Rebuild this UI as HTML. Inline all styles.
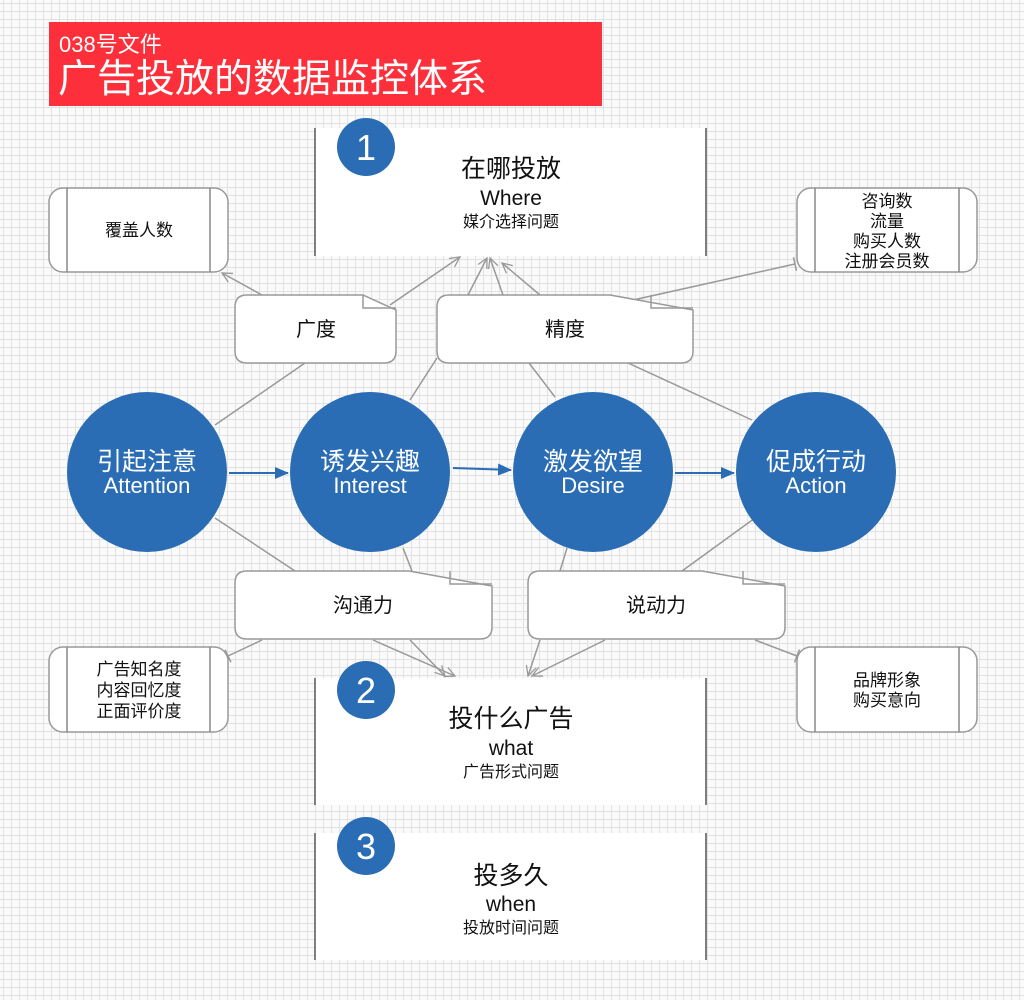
<!DOCTYPE html>
<html><head><meta charset="utf-8"><style>
html,body{margin:0;padding:0;}
body{width:1024px;height:1000px;overflow:hidden;background-color:#fafafa;
background-image:linear-gradient(#e2e2e2 1px,transparent 1px),linear-gradient(90deg,#e2e2e2 1px,transparent 1px);
background-size:8px 8px;background-position:3px 3px;}
svg{position:absolute;left:0;top:0;font-family:"Liberation Sans","Noto Sans CJK SC",sans-serif;}
</style></head><body>
<svg width="1024" height="1000" viewBox="0 0 1024 1000">
<defs>
<marker id="op" markerWidth="12" markerHeight="12" refX="10" refY="6" orient="auto" markerUnits="userSpaceOnUse"><path d="M0,1 L10,6 L0,11" fill="none" stroke="#999" stroke-width="1.3"/></marker>
<marker id="bar" markerWidth="4" markerHeight="14" refX="2" refY="7" orient="auto" markerUnits="userSpaceOnUse"><path d="M2,0 L2,14" stroke="#999" stroke-width="1.5"/></marker>
<marker id="blue" markerWidth="14" markerHeight="12" refX="13" refY="6" orient="auto" markerUnits="userSpaceOnUse"><path d="M0,0 L14,6 L0,12 Z" fill="#2a6db5"/></marker>
</defs>
<!-- banner -->
<rect x="49" y="22" width="553" height="84" fill="#fd2f3b"/>
<text x="59" y="52" font-size="22" fill="#fff">038号文件</text>
<text x="58" y="92" font-size="39" fill="#fff">广告投放的数据监控体系</text>

<!-- connectors -->
<g stroke="#999" stroke-width="1.5" fill="none">
<line x1="262" y1="295" x2="222" y2="273" marker-end="url(#op)"/>
<line x1="390" y1="305" x2="460" y2="257" marker-end="url(#op)"/>
<line x1="215" y1="425" x2="305" y2="363"/>
<line x1="468" y1="295" x2="487" y2="258" marker-end="url(#op)"/>
<line x1="503" y1="295" x2="490" y2="258" marker-end="url(#op)"/>
<line x1="540" y1="295" x2="502" y2="263" marker-end="url(#op)"/>
<line x1="410" y1="400" x2="437" y2="358"/>
<line x1="555" y1="397" x2="529" y2="363"/>
<line x1="752" y1="420" x2="628" y2="363"/>
<line x1="633" y1="300" x2="795" y2="264" marker-end="url(#bar)"/>
<line x1="215" y1="518" x2="295" y2="571"/>
<line x1="403" y1="548" x2="412" y2="571"/>
<line x1="262" y1="640" x2="228" y2="656" marker-end="url(#bar)"/>
<line x1="373" y1="640" x2="455" y2="676" marker-end="url(#op)"/>
<line x1="410" y1="640" x2="445" y2="676" marker-end="url(#op)"/>
<line x1="567" y1="548" x2="560" y2="571"/>
<line x1="755" y1="518" x2="682" y2="571"/>
<line x1="540" y1="640" x2="528" y2="676" marker-end="url(#op)"/>
<line x1="605" y1="640" x2="532" y2="676" marker-end="url(#op)"/>
<line x1="755" y1="640" x2="797" y2="656" marker-end="url(#bar)"/>
</g>

<!-- main boxes -->
<g>
<rect x="315" y="128" width="391" height="128" fill="#fff"/>
<rect x="315" y="678" width="391" height="127" fill="#fff"/>
<rect x="315" y="833" width="391" height="127" fill="#fff"/>
<g stroke="#555" stroke-width="1.5">
<line x1="315" y1="128" x2="315" y2="256"/><line x1="706" y1="128" x2="706" y2="256"/>
<line x1="315" y1="678" x2="315" y2="805"/><line x1="706" y1="678" x2="706" y2="805"/>
<line x1="315" y1="833" x2="315" y2="960"/><line x1="706" y1="833" x2="706" y2="960"/>
</g>
<g fill="#2a6db5"><circle cx="366" cy="147" r="29"/><circle cx="366" cy="690" r="29"/><circle cx="366" cy="846" r="29"/></g>
<g fill="#fff" font-size="36" text-anchor="middle"><text x="366" y="160">1</text><text x="366" y="703">2</text><text x="366" y="859">3</text></g>
<g text-anchor="middle" fill="#111">
<text x="511" y="177" font-size="25">在哪投放</text>
<text x="511" y="205" font-size="21">Where</text>
<text x="511" y="227" font-size="16">媒介选择问题</text>
<text x="511" y="727" font-size="25">投什么广告</text>
<text x="511" y="755" font-size="21">what</text>
<text x="511" y="777" font-size="16">广告形式问题</text>
<text x="511" y="884" font-size="25">投多久</text>
<text x="511" y="911" font-size="21">when</text>
<text x="511" y="933" font-size="16">投放时间问题</text>
</g>
</g>

<!-- side boxes -->
<g fill="#fff" stroke="#999" stroke-width="1.5">
<rect x="49" y="188" width="179" height="84" rx="14"/>
<rect x="797" y="188" width="180" height="84" rx="14"/>
<rect x="49" y="647" width="179" height="85" rx="14"/>
<rect x="797" y="647" width="180" height="85" rx="14"/>
</g>
<g stroke="#888" stroke-width="1.5">
<line x1="67" y1="188" x2="67" y2="272"/><line x1="210" y1="188" x2="210" y2="272"/>
<line x1="815" y1="188" x2="815" y2="272"/><line x1="959" y1="188" x2="959" y2="272"/>
<line x1="67" y1="647" x2="67" y2="732"/><line x1="210" y1="647" x2="210" y2="732"/>
<line x1="815" y1="647" x2="815" y2="732"/><line x1="959" y1="647" x2="959" y2="732"/>
</g>
<g text-anchor="middle" fill="#111" font-size="17">
<text x="139" y="236">覆盖人数</text>
<text x="887" y="207">咨询数</text><text x="887" y="227">流量</text><text x="887" y="247">购买人数</text><text x="887" y="267">注册会员数</text>
<text x="139" y="675">广告知名度</text><text x="139" y="696">内容回忆度</text><text x="139" y="717">正面评价度</text>
<text x="887" y="686">品牌形象</text><text x="887" y="706">购买意向</text>
</g>

<!-- notes -->
<g fill="#fff" stroke="#999" stroke-width="1.5">
<path d="M247,295 H363 L396,310 V351 Q396,363 384,363 H247 Q235,363 235,351 V307 Q235,295 247,295 Z"/>
<path d="M449,295 H610 L693,310 V351 Q693,363 681,363 H449 Q437,363 437,351 V307 Q437,295 449,295 Z"/>
<path d="M247,571 H409 L492,586 V627 Q492,639 480,639 H247 Q235,639 235,627 V583 Q235,571 247,571 Z"/>
<path d="M540,571 H702 L785,586 V627 Q785,639 773,639 H540 Q528,639 528,627 V583 Q528,571 540,571 Z"/>
</g>
<g fill="none" stroke="#999" stroke-width="1.5">
<path d="M363,295 V308 H396"/><path d="M651,295 V308 H693"/>
<path d="M450,571 V584 H492"/><path d="M743,571 V584 H785"/>
</g>
<g text-anchor="middle" fill="#111" font-size="20">
<text x="316" y="336">广度</text><text x="565" y="336">精度</text>
<text x="363" y="612">沟通力</text><text x="656" y="612">说动力</text>
</g>

<!-- circles -->
<g fill="#2a6db5">
<circle cx="147" cy="472" r="80"/><circle cx="370" cy="472" r="80"/>
<circle cx="593" cy="472" r="80"/><circle cx="816" cy="472" r="80"/>
</g>
<g stroke="#2a6db5" stroke-width="2">
<line x1="229" y1="473" x2="288" y2="473" marker-end="url(#blue)"/>
<line x1="453" y1="468" x2="511" y2="470" marker-end="url(#blue)"/>
<line x1="675" y1="473" x2="734" y2="473" marker-end="url(#blue)"/>
</g>
<g fill="#fff" text-anchor="middle">
<g font-size="25"><text x="147" y="470">引起注意</text><text x="370" y="470">诱发兴趣</text><text x="593" y="470">激发欲望</text><text x="816" y="470">促成行动</text></g>
<g font-size="22"><text x="147" y="493">Attention</text><text x="370" y="493">Interest</text><text x="593" y="493">Desire</text><text x="816" y="493">Action</text></g>
</g>
</svg>
</body></html>
